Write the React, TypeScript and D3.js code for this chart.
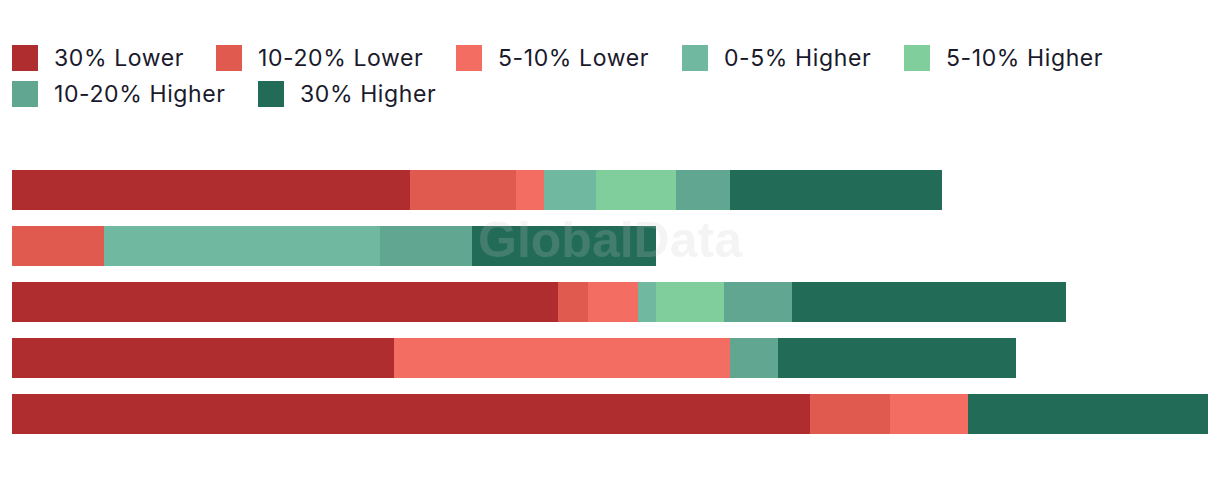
import React from "react";
import * as d3 from "d3";

const categories = ["Row 1", "Row 2", "Row 3", "Row 4", "Row 5"];
const seriesNames = [
  "30% Lower",
  "10-20% Lower",
  "5-10% Lower",
  "0-5% Higher",
  "5-10% Higher",
  "10-20% Higher",
  "30% Higher",
];
const seriesColors = ["#AF2D2E", "#E05A4F", "#F46D62", "#70B8A0", "#80CE9C", "#60A690", "#216B57"];

const lower30 = [199, 0, 273, 191, 399];
const lower1020 = [53, 46, 15, 0, 40];
const lower510 = [14, 0, 25, 168, 39];
const higher05 = [26, 138, 9, 0, 0];
const higher510 = [40, 0, 34, 0, 0];
const higher1020 = [27, 46, 34, 24, 0];
const higher30 = [106, 92, 137, 119, 120];

const seriesValues = [lower30, lower1020, lower510, higher05, higher510, higher1020, higher30];

// legend layout: row index and left x of each item
const legendRows = [0, 0, 0, 0, 0, 1, 1];
const legendX = [12, 216, 456, 682, 904, 12, 258];

const W = 1220;
const H = 478;

export default function App() {
  const rows = categories.map((c, i) => {
    const o: any = { cat: c };
    seriesNames.forEach((s, k) => (o[s] = seriesValues[k][i]));
    return o;
  });
  const stack = d3.stack<any>().keys(seriesNames)(rows);
  const maxTotal = d3.max(rows, (r: any) => d3.sum(seriesNames, (s) => r[s])) as number;
  const x = d3.scaleLinear().domain([0, maxTotal]).range([12, 1208]);
  const y = d3
    .scaleBand()
    .domain(categories)
    .range([162, 442])
    .paddingInner(16 / 56)
    .paddingOuter(8 / 56);

  return (
    <svg width={W} height={H} style={{ display: "block", position: "absolute", left: 0, top: 0 }}>
      <rect width={W} height={H} fill="#fff" />
      {legendX.map((lx, i) => {
        const cy = 58 + legendRows[i] * 36;
        return (
          <g key={i}>
            <rect x={lx} y={cy - 13} width={26} height={26} fill={seriesColors[i]} />
            <text
              x={lx + 42}
              y={cy}
              dy="0.35em"
              fontFamily="Inter, 'Noto Sans', sans-serif"
              fontSize={23}
              letterSpacing={0.6}
              fill="#1a1a2c"
            >
              {seriesNames[i]}
            </text>
          </g>
        );
      })}
      {stack.map((layer, k) => (
        <g key={k} fill={seriesColors[k]}>
          {layer.map((d, i) =>
            d[1] - d[0] > 0 ? (
              <rect
                key={i}
                x={x(d[0])}
                y={y(categories[i])}
                width={x(d[1]) - x(d[0])}
                height={y.bandwidth()}
              />
            ) : null
          )}
        </g>
      ))}
      <text
        x={610}
        y={257}
        textAnchor="middle"
        fontFamily="'Liberation Sans', Arial, sans-serif"
        fontWeight="bold"
        fontSize={50}
        fill="rgb(200,200,200)"
        fillOpacity={0.2}
      >
        GlobalData
      </text>
    </svg>
  );
}
